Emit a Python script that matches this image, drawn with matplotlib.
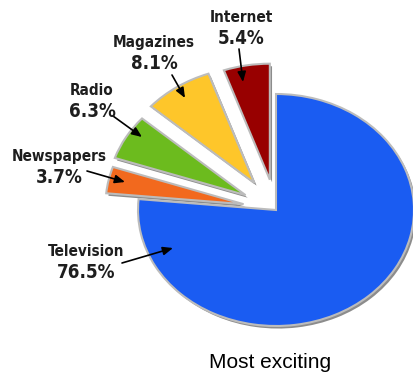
import matplotlib
matplotlib.use("Agg")
import matplotlib.pyplot as plt

# data
media = ["Television", "Newspapers", "Radio", "Magazines", "Internet"]
shares = [76.5, 3.7, 6.3, 8.1, 5.4]
colors = ["#1a5cf2", "#f2691e", "#6cbb1e", "#fec62a", "#980000"]
explode = [0, 0.24, 0.255, 0.28, 0.265]

# label / arrow positions in image pixels (text centre, arrow start, arrow tip)
label_xy = [(86, 262), (59, 167), (92, 101), (154, 53), (241, 28)]
arrow_from = [(122, 263), (87, 171), (113, 116), (172, 75), (239, 49)]
arrow_to = [(173, 248), (125, 182), (142, 137), (185, 98), (243, 82)]

W, H = 413, 378
cx, cy, rx, ry = 276, 210, 138, 116


def px(p):
    return ((p[0] - cx) / rx, (cy - p[1]) / ry)


fig = plt.figure(figsize=(W / 100, H / 100), dpi=100)
ax = fig.add_axes([0, 0, 1, 1])

# gray shadow under the wedges
ax.pie(shares, explode=explode, startangle=90, counterclock=False,
       colors=["#8c8c8c"] * len(shares), center=(0.016, -0.022),
       wedgeprops=dict(linewidth=0))
ax.pie(shares, explode=explode, startangle=90, counterclock=False,
       colors=colors, wedgeprops=dict(edgecolor="#bcbcbc", linewidth=1.5))

ax.set_aspect("auto")
ax.set_xlim(-cx / rx, (W - cx) / rx)
ax.set_ylim((cy - H) / ry, cy / ry)
ax.axis("off")

font = dict(ha="center", va="center", fontweight="bold", fontstretch="condensed",
            family="DejaVu Sans", color="#1e1e1e", textcoords="offset points")
for name, val, lxy, a0, a1 in zip(media, shares, label_xy, arrow_from, arrow_to):
    ax.annotate("", xy=px(a1), xytext=px(a0),
                arrowprops=dict(arrowstyle="-|>,head_length=0.6,head_width=0.25",
                                color="black", lw=1.2, shrinkA=0, shrinkB=0))
    ax.annotate(name, px(lxy), xytext=(0, 7.8), fontsize=11, **font)
    ax.annotate(f"{val}%", px(lxy), xytext=(0, -7.6), fontsize=13.5, **font)

ax.text(*px((270, 362)), "Most exciting", ha="center", va="center",
        fontsize=15, family=["Liberation Sans", "DejaVu Sans"])

fig.savefig("out.png", dpi=100)
